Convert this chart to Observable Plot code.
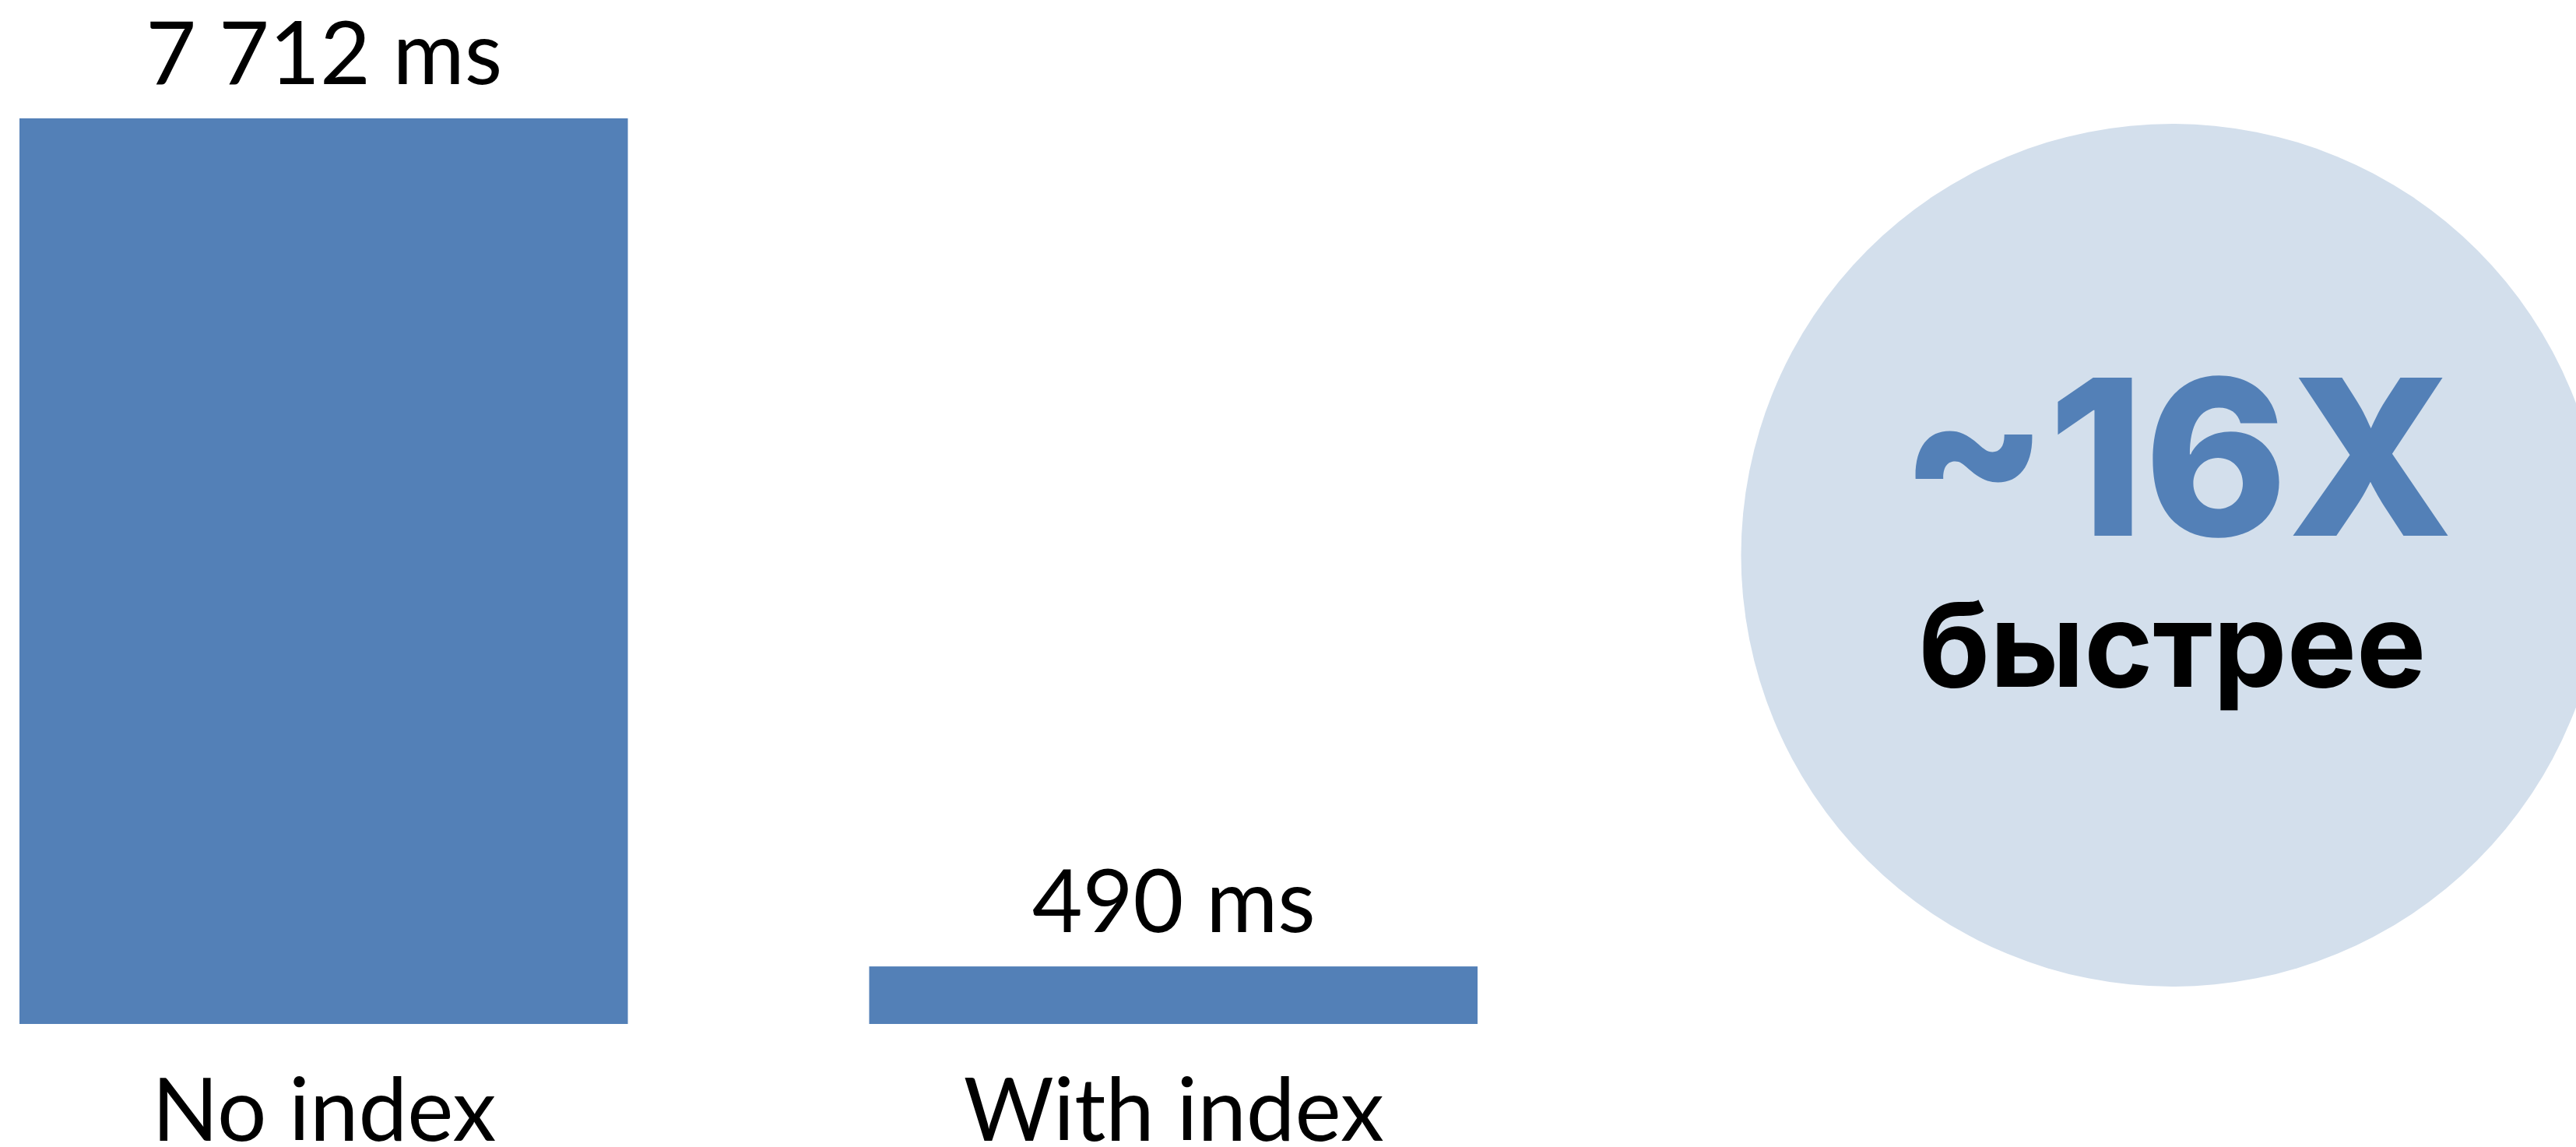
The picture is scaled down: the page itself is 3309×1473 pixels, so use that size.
<!DOCTYPE html>
<html>
<head>
<meta charset="utf-8">
<script src="https://cdn.jsdelivr.net/npm/d3@7"></script>
<script src="https://cdn.jsdelivr.net/npm/@observablehq/plot@0.6"></script>
<style>
  html, body { margin: 0; padding: 0; background: #ffffff; }
  #chart svg { display: block; }
  g[aria-label="speedup"] text { letter-spacing: -10px; }
  g[aria-label="value labels"] text { letter-spacing: -3px; }
</style>
</head>
<body>
<div id="chart"></div>
<script>
// Data
const categories = ["No index", "With index"];
const timesMs = [7712, 490];
const unit = "ms";
const speedupWord = "быстрее";

const barColor = "#5380b7";
const circleColor = "#d3dfec";

const rows = categories.map((c, i) => ({category: c, value: timesMs[i]}));
const fmt = d3.formatLocale({decimal: ".", thousands: " ", grouping: [3], currency: ["", ""]}).format(",d");
const speedup = Math.round(timesMs[0] / timesMs[1]);

const chart = Plot.plot({
  width: 3309,
  height: 1473,
  margin: 0,
  style: {background: "#ffffff", fontFamily: "Lato, sans-serif", overflow: "hidden"},
  x: {type: "band", domain: categories, range: [25, 1898], paddingInner: 0.284, paddingOuter: 0, round: false, axis: null},
  y: {domain: [0, timesMs[0]], range: [1315, 152], axis: null},
  marks: [
    // speed-up circle
    Plot.dot([speedup], {frameAnchor: "right", dx: -519, dy: -24, r: 554, fill: circleColor, stroke: null}),
    Plot.text([speedup], {ariaLabel: "speedup", frameAnchor: "right", dx: -514, dy: -49, text: d => `~${d}X`, lineAnchor: "bottom",
      fontFamily: "Inter, sans-serif", fontWeight: 800, fontSize: 279, fill: barColor, textAnchor: "middle"}),
    Plot.text([speedupWord], {frameAnchor: "right", dx: -519, dy: 145, text: d => d, lineAnchor: "bottom",
      fontFamily: "Inter, sans-serif", fontWeight: 700, fontSize: 150, fill: "#000000", textAnchor: "middle"}),
    // bars
    Plot.barY(rows, {x: "category", y: "value", fill: barColor, inset: 0}),
    // value labels
    Plot.text(rows, {ariaLabel: "value labels", x: "category", y: "value", text: d => `${fmt(d.value)} ${unit}`, dy: -45, lineAnchor: "bottom",
      fontSize: 112, fill: "#000000"}),
    // category labels
    Plot.text(rows, {x: "category", frameAnchor: "bottom", text: "category", dy: -9, lineAnchor: "bottom",
      fontSize: 112, fill: "#000000"})
  ]
});
document.getElementById("chart").appendChild(chart);
</script>
</body>
</html>
